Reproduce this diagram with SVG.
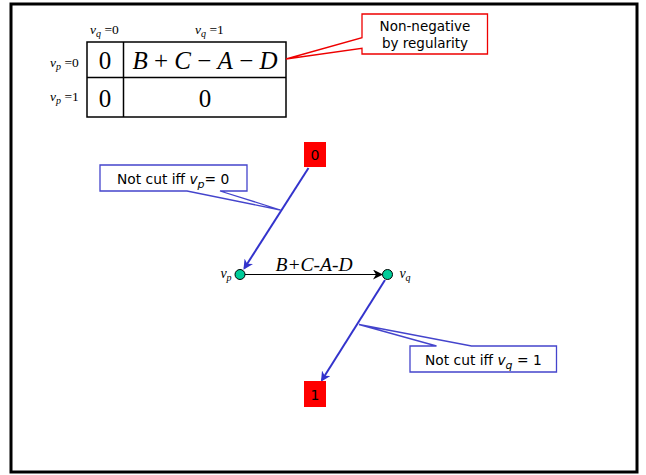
<svg xmlns="http://www.w3.org/2000/svg" width="646" height="475" viewBox="0 0 646 475">
<style>
.serif{font-family:"Liberation Serif","Times New Roman",serif;fill:#000}
.sans{font-family:"DejaVu Sans","Liberation Sans",sans-serif;fill:#000}
.it{font-style:italic}
.tbl{fill:none;stroke:#000;stroke-width:1.5}
.blue{stroke:#3333cc;stroke-width:2;fill:none}
.bcall{fill:#fff;stroke:#4444cc;stroke-width:1.3}
.rcall{fill:#fff;stroke:#ee0000;stroke-width:1.3}
.node{fill:#00cc99;stroke:#000;stroke-width:1}
.term{fill:#ff0000}
</style>
<defs>
<marker id="ab" markerWidth="10" markerHeight="10" refX="8" refY="5" orient="auto" markerUnits="userSpaceOnUse">
<path d="M0,0 L10,5 L0,10 L3,5 z" fill="#3333cc"/>
</marker>
<marker id="ak" markerWidth="10" markerHeight="10" refX="8" refY="5" orient="auto" markerUnits="userSpaceOnUse">
<path d="M0,0 L10,5 L0,10 L3,5 z" fill="#000"/>
</marker>
</defs>
<rect x="0" y="0" width="646" height="475" fill="#fff"/>
<rect x="11" y="4" width="626" height="468" fill="none" stroke="#000" stroke-width="3"/>

<g id="table">
<rect class="tbl" x="87" y="42" width="199" height="75"/>
<line class="tbl" x1="87" y1="77.5" x2="286" y2="77.5"/>
<line class="tbl" x1="123.5" y1="42" x2="123.5" y2="117"/>
<text class="serif" x="90" y="34" font-size="13.5"><tspan class="it">v</tspan><tspan class="it" font-size="10" dy="3">q</tspan><tspan dy="-3"> =0</tspan></text>
<text class="serif" x="195" y="34" font-size="13.5"><tspan class="it">v</tspan><tspan class="it" font-size="10" dy="3">q</tspan><tspan dy="-3"> =1</tspan></text>
<text class="serif" x="50" y="67" font-size="13.5"><tspan class="it">v</tspan><tspan class="it" font-size="10" dy="3">p</tspan><tspan dy="-3"> =0</tspan></text>
<text class="serif" x="50" y="101" font-size="13.5"><tspan class="it">v</tspan><tspan class="it" font-size="10" dy="3">p</tspan><tspan dy="-3"> =1</tspan></text>
<text class="serif" x="105" y="69" font-size="25" text-anchor="middle">0</text>
<text class="serif" x="105" y="107" font-size="25" text-anchor="middle">0</text>
<text class="serif" x="205" y="69" font-size="25" text-anchor="middle"><tspan class="it">B</tspan> + <tspan class="it">C</tspan> − <tspan class="it">A</tspan> − <tspan class="it">D</tspan></text>
<text class="serif" x="205" y="107" font-size="25" text-anchor="middle">0</text>
</g>

<g id="callout-regularity">
<path class="rcall" d="M362,14 H487.5 V54 H362 V48.3 L286,59 L362,37.7 Z"/>
<text class="sans" x="425" y="31" font-size="13.5" text-anchor="middle">Non-negative</text>
<text class="sans" x="425" y="48" font-size="13.5" text-anchor="middle">by regularity</text>
</g>

<g id="connectors">
<line class="blue" x1="308.5" y1="168" x2="244.5" y2="268" marker-end="url(#ab)"/>
<line x1="245" y1="274.5" x2="381" y2="274.5" stroke="#000" stroke-width="1" marker-end="url(#ak)"/>
<line class="blue" x1="385" y1="280" x2="322" y2="380" marker-end="url(#ab)"/>
</g>

<g id="node-0">
<rect class="term" x="304" y="142" width="22" height="25"/>
<text class="sans" x="315" y="160" font-size="14" text-anchor="middle">0</text>
</g>
<g id="node-1">
<rect class="term" x="304" y="381" width="22" height="26"/>
<text class="sans" x="315" y="399.5" font-size="14" text-anchor="middle">1</text>
</g>

<g id="node-vp">
<circle class="node" cx="240" cy="274.5" r="5"/>
<text class="serif" x="226" y="278" font-size="14" text-anchor="middle"><tspan class="it">v</tspan><tspan class="it" font-size="10" dy="3">p</tspan></text>
</g>
<g id="node-vq">
<circle class="node" cx="387.5" cy="274.5" r="5"/>
<text class="serif" x="405" y="278" font-size="14" text-anchor="middle"><tspan class="it">v</tspan><tspan class="it" font-size="10" dy="3">q</tspan></text>
</g>
<text class="serif it" x="314" y="271" font-size="19.5" text-anchor="middle">B+C-A-D</text>

<g id="callout-vp">
<path class="bcall" d="M100,165 H247 V191 H220 L280.5,210 L187,191 H100 Z"/>
<text class="sans" x="117" y="183.5" font-size="13.8">Not cut iff <tspan font-style="italic">v</tspan><tspan font-style="italic" font-size="11" dy="4">p</tspan><tspan dy="-4">= 0</tspan></text>
</g>

<g id="callout-vq">
<path class="bcall" d="M410,346 H436.5 L359,324.5 L471.5,346 H556.5 V372 H410 Z"/>
<text class="sans" x="425" y="364.5" font-size="13.8">Not cut iff  <tspan font-style="italic">v</tspan><tspan font-style="italic" font-size="11" dy="4">q</tspan><tspan dy="-4"> = 1</tspan></text>
</g>
</svg>
